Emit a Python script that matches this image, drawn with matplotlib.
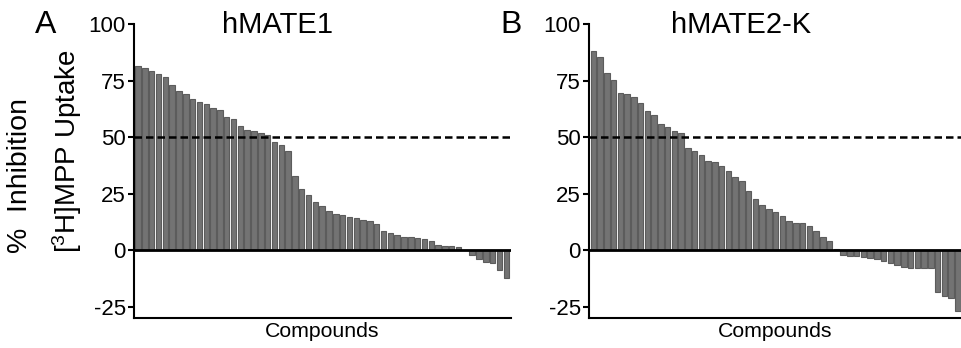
import numpy as np
import matplotlib
matplotlib.use("Agg")
import matplotlib.pyplot as plt

plt.rcParams['font.family'] = ['Liberation Sans', 'DejaVu Sans']
plt.rcParams['mathtext.default'] = 'regular'
plt.rcParams['axes.unicode_minus'] = False

# % inhibition of [3H]MPP uptake, compounds sorted high -> low
mate1 = [81.5, 80.5, 79, 78, 76.5, 73, 70.5, 69, 67, 65.5,
         64.5, 63, 62, 59, 58, 55, 53, 52.5, 51.8, 51,
         48, 46.5, 44, 33, 27, 24.5, 21.5, 19.5, 17.5, 16,
         15.5, 14.8, 14, 13.5, 13, 11.5, 8.5, 7.7, 6.8, 6,
         5.6, 5.3, 5, 4.2, 2.2, 1.8, 1.7, 1.6, 0.2, -2.2,
         -3.7, -5.2, -5.6, -8.6, -12.5]
mate2k = [88, 85.5, 78.5, 75.2, 69.6, 68.9, 67.8, 64.9, 61.6, 59.7,
          55.8, 54.3, 52.8, 51.9, 45, 43.8, 42, 39.5, 39, 37,
          35, 32.5, 30.5, 26, 22.5, 20, 18, 16.8, 15, 13,
          12.1, 12, 10.6, 8.4, 6, 4.2, 0.6, -2.2, -2.5, -2.8,
          -3, -3.3, -4, -5, -5.8, -6.6, -7.5, -7.9, -8, -8,
          -8.1, -18.5, -20.4, -21.2, -26.7]
yticks = [-25, 0, 25, 50, 75, 100]

fig = plt.figure(figsize=(9.62, 3.48), dpi=100)
W, H = 962, 348

def panel(left, right, vals, xlim):
    ax = fig.add_axes([left / W, 1 - 318 / H, (right - left) / W, (318 - 24) / H])
    x = np.arange(len(vals))
    ax.bar(x, vals, width=0.8, color='#737373', edgecolor='#5c5c5c', linewidth=0.8)
    ax.axhline(0, color='black', lw=2)
    ax.axhline(50, color='black', lw=1.8, ls='--', dashes=(3, 1.6))
    ax.set_xlim(*xlim)
    ax.set_ylim(-30, 100)
    ax.set_yticks(yticks)
    ax.set_xticks([])
    for s in ['top', 'right']:
        ax.spines[s].set_visible(False)
    for s in ['left', 'bottom']:
        ax.spines[s].set_linewidth(1.5)
    ax.tick_params(axis='y', direction='out', length=4.5, width=1.5, labelsize=16, pad=1.5)
    ax.set_xlabel('Compounds', fontsize=15.3, labelpad=3)
    return ax

panel(134, 511, mate1, (-0.6, 54.7))
panel(589, 962, mate2k, (-0.65, 54.6))

fig.text(46 / W, 1 - 25 / H, 'A', fontsize=23, ha='center', va='center')
fig.text(511 / W, 1 - 25 / H, 'B', fontsize=23, ha='center', va='center')
fig.text(278 / W, 1 - 25 / H, 'hMATE1', fontsize=21, ha='center', va='center')
fig.text(741 / W, 1 - 25 / H, 'hMATE2-K', fontsize=21, ha='center', va='center')
fig.text(20 / W, 1 - 253 / H, '%  Inhibition', fontsize=20.5, rotation=90, ha='center', va='bottom')
fig.text(67 / W, 1 - 253 / H, '[$^3$H]MPP Uptake', fontsize=20, rotation=90, ha='center', va='bottom')

fig.savefig('out.png', dpi=100, facecolor='white')
